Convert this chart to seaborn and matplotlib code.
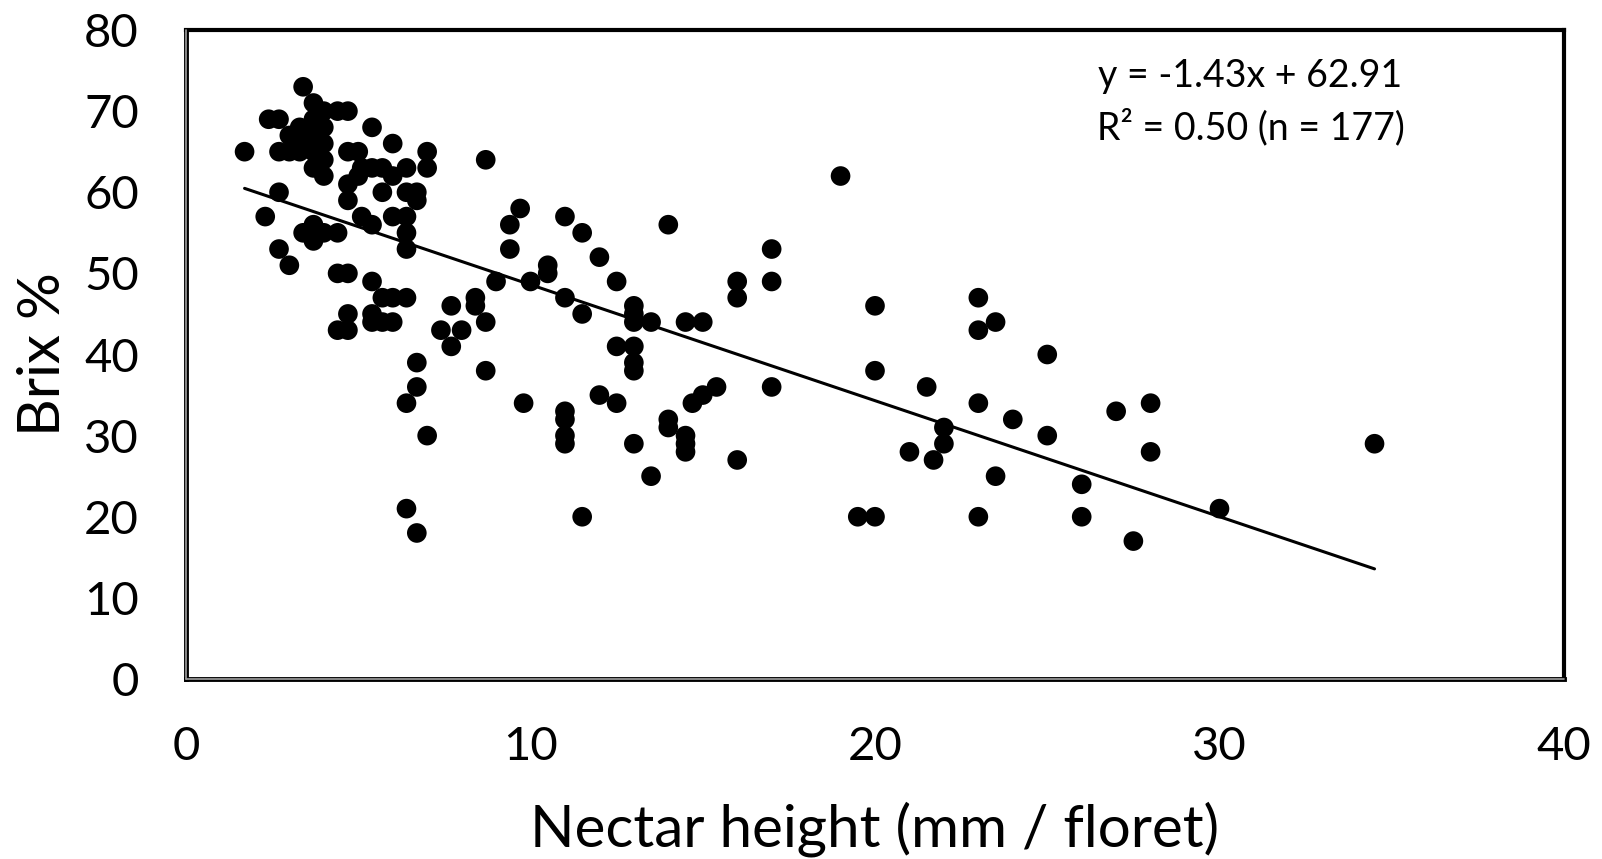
import matplotlib
matplotlib.use("Agg")
import matplotlib.pyplot as plt
import seaborn as sns
import pandas as pd
import numpy as np

nectar_height = [
    1.7, 2.3, 2.4, 2.7, 2.7, 2.7, 2.7, 3.0, 3.0, 3.0,
    3.3, 3.3, 3.3, 3.4, 3.4, 3.7, 3.7, 3.7, 3.7, 3.7,
    3.7, 3.7, 4.0, 4.0, 4.0, 4.0, 4.0, 4.0, 4.4, 4.4,
    4.4, 4.4, 4.7, 4.7, 4.7, 4.7, 4.7, 4.7, 4.7, 5.0,
    5.0, 5.1, 5.1, 5.4, 5.4, 5.4, 5.4, 5.4, 5.4, 5.7,
    5.7, 5.7, 5.7, 6.0, 6.0, 6.0, 6.0, 6.0, 6.4, 6.4,
    6.4, 6.4, 6.4, 6.4, 6.4, 6.4, 6.7, 6.7, 6.7, 6.7,
    6.7, 7.0, 7.0, 7.0, 7.4, 7.7, 7.7, 8.0, 8.4, 8.4,
    8.7, 8.7, 8.7, 9.0, 9.4, 9.4, 9.7, 9.8, 10.0, 10.5,
    10.5, 11.0, 11.0, 11.0, 11.0, 11.0, 11.0, 11.5, 11.5, 11.5,
    12.0, 12.0, 12.5, 12.5, 12.5, 13.0, 13.0, 13.0, 13.0, 13.0,
    13.0, 13.0, 13.5, 13.5, 14.0, 14.0, 14.0, 14.5, 14.5, 14.5,
    14.5, 14.7, 15.0, 15.0, 15.4, 16.0, 16.0, 16.0, 17.0, 17.0,
    17.0, 19.0, 19.5, 20.0, 20.0, 20.0, 21.0, 21.5, 21.7, 22.0,
    22.0, 23.0, 23.0, 23.0, 23.0, 23.5, 23.5, 24.0, 25.0, 25.0,
    26.0, 26.0, 27.0, 27.5, 28.0, 28.0, 30.0, 34.5,
]
brix = [
    65, 57, 69, 69, 65, 60, 53, 51, 67, 65,
    68, 66, 65, 73, 55, 71, 69, 67, 65, 63,
    56, 54, 70, 68, 66, 64, 62, 55, 70, 55,
    50, 43, 70, 65, 61, 59, 50, 45, 43, 65,
    62, 63, 57, 68, 63, 56, 49, 45, 44, 63,
    60, 47, 44, 66, 62, 57, 47, 44, 63, 60,
    57, 55, 53, 47, 34, 21, 60, 59, 39, 36,
    18, 65, 63, 30, 43, 46, 41, 43, 47, 46,
    64, 44, 38, 49, 56, 53, 58, 34, 49, 51,
    50, 57, 47, 33, 32, 30, 29, 55, 45, 20,
    52, 35, 49, 41, 34, 46, 45, 44, 41, 39,
    38, 29, 44, 25, 56, 32, 31, 44, 30, 29,
    28, 34, 44, 35, 36, 49, 47, 27, 53, 49,
    36, 62, 20, 20, 46, 38, 28, 36, 27, 31,
    29, 47, 43, 34, 20, 44, 25, 32, 40, 30,
    24, 20, 33, 17, 34, 28, 21, 29,
]

slope = -1.43
intercept = 62.91
r_squared = 0.50
n_total = 177

x_ticks = [0, 10, 20, 30, 40]
y_ticks = [0, 10, 20, 30, 40, 50, 60, 70, 80]

df = pd.DataFrame({"x": nectar_height, "y": brix})

sns.set_theme(style="white")
plt.rcParams["font.family"] = ["Lato", "DejaVu Sans"]

fig = plt.figure(figsize=(16.02, 8.59), dpi=100)
ax = fig.add_axes([186 / 1602, 1 - 679 / 859, (1564 - 186) / 1602, (679 - 30) / 859])

sns.scatterplot(data=df, x="x", y="y", ax=ax, s=200, color="black",
                edgecolor="none", linewidth=0, legend=False, zorder=3)

xmin, xmax = min(nectar_height), max(nectar_height)
line_df = pd.DataFrame({"x": [xmin, xmax],
                        "y": [slope * xmin + intercept, slope * xmax + intercept]})
sns.lineplot(data=line_df, x="x", y="y", ax=ax, color="black", linewidth=2.2, zorder=4)

ax.set_xlim(0, 40)
ax.set_ylim(0, 80)
ax.set_xticks(x_ticks)
ax.set_yticks(y_ticks)
ax.set_xticklabels([str(t) for t in x_ticks])
ax.set_yticklabels([str(t) for t in y_ticks])
ax.tick_params(axis="both", which="both", length=0, labelsize=34, colors="black")
ax.tick_params(axis="x", pad=34)
ax.tick_params(axis="y", pad=34)

ax.set_xlabel("Nectar height (mm / floret)", fontsize=42, color="black", labelpad=24)
ax.set_ylabel("Brix %", fontsize=42, color="black", labelpad=10)

for side in ["top", "right"]:
    ax.spines[side].set_color("black")
    ax.spines[side].set_linewidth(3)
for side in ["left", "bottom"]:
    ax.spines[side].set_color("black")
    ax.spines[side].set_linewidth(3.5)
ax.axvline(0, color="#a0a0a0", linewidth=1.2, clip_on=False, zorder=6)
ax.axhline(0, color="#a0a0a0", linewidth=1.2, clip_on=False, zorder=6)

eq_text = f"y = {slope:.2f}x + {intercept:.2f}\nR\u00b2 = {r_squared:.2f} (n = {n_total})"
ax.text(30.9, 71.1, eq_text, ha="center", va="center", fontsize=27,
        color="black", linespacing=1.45)

fig.savefig("out.png", dpi=100)
